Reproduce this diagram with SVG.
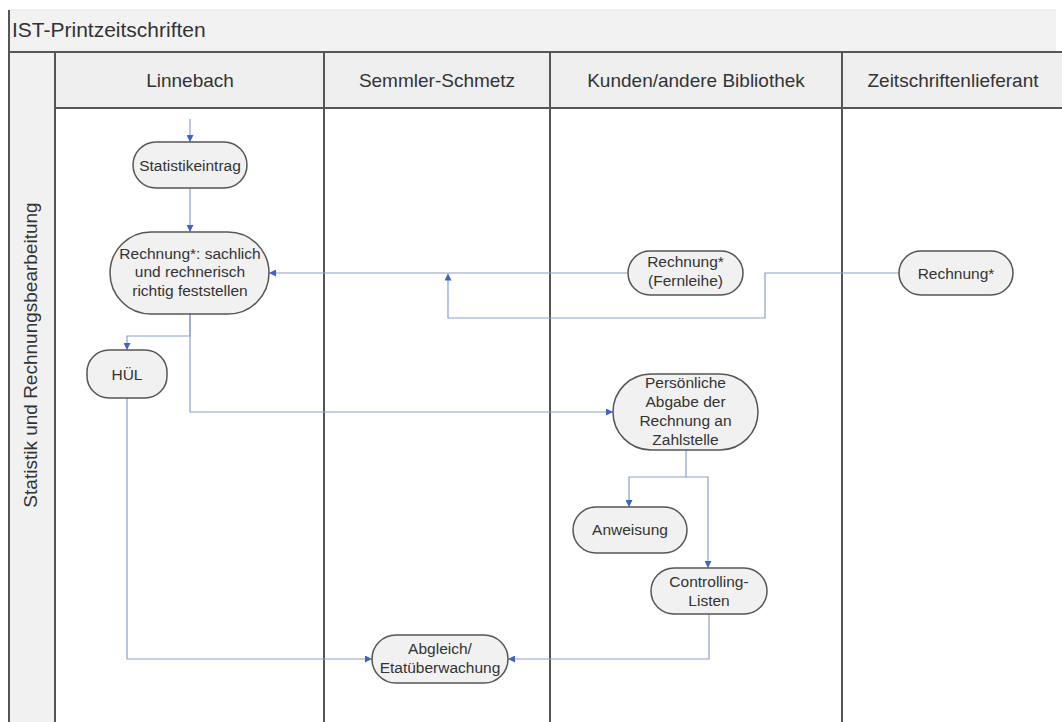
<svg xmlns="http://www.w3.org/2000/svg" width="1062" height="722" viewBox="0 0 1062 722">
  <style>
    text { font-family: "Liberation Sans", Arial, sans-serif; fill: #333; }
    .title { font-size: 21px; }
    .hdr { font-size: 19px; text-anchor: middle; }
    .lbl { font-size: 15.5px; text-anchor: middle; }
    .node rect { fill: #f1f1f1; stroke: #555; stroke-width: 1.5; }
    .lane { stroke: #555; stroke-width: 2; fill: none; }
    .conn path { fill: none; stroke: #8c9ecb; stroke-width: 1.2; marker-end: url(#arr); }
  </style>
  <defs>
    <marker id="arr" viewBox="0 0 10 10" refX="10" refY="5" markerWidth="7" markerHeight="7" markerUnits="userSpaceOnUse" orient="auto">
      <path d="M0,0 L10,5 L0,10 z" fill="#3e64c8"/>
    </marker>
  </defs>
  <rect width="1062" height="722" fill="#fff"/>
  <!-- pool frame -->
  <g id="pool">
    <rect x="9" y="10" width="1047" height="42" fill="#f2f2f2"/>
    <line x1="9" y1="10" x2="1056" y2="10" stroke="#e2e2e2" stroke-width="1"/>
    <text class="title" x="12" y="37">IST-Printzeitschriften</text>
    <rect x="9" y="52" width="46" height="670" fill="#f1f1f1"/>
    <rect x="55" y="52" width="1007" height="56" fill="#efefef"/>
    <line class="lane" x1="9" y1="10" x2="9" y2="722"/>
    <line class="lane" x1="9" y1="52" x2="1062" y2="52"/>
    <line class="lane" x1="55" y1="52" x2="55" y2="722"/>
    <line class="lane" x1="55" y1="108" x2="1062" y2="108"/>
    <line class="lane" x1="324" y1="52" x2="324" y2="722"/>
    <line class="lane" x1="550" y1="52" x2="550" y2="722"/>
    <line class="lane" x1="842" y1="52" x2="842" y2="722"/>
    <text class="hdr" x="190" y="87">Linnebach</text>
    <text class="hdr" x="437" y="87">Semmler-Schmetz</text>
    <text class="hdr" x="696" y="87">Kunden/andere Bibliothek</text>
    <text class="hdr" x="953" y="87">Zeitschriftenlieferant</text>
    <text class="hdr" transform="translate(37,355) rotate(-90)" x="0" y="0">Statistik und Rechnungsbearbeitung</text>
  </g>
  <g class="conn" id="connectors">
    <path d="M190,119 L190,142"/>
    <path d="M190,188 L190,232"/>
    <path d="M628,273 L269,273"/>
    <path d="M899,273 L765,273 L765,318 L448,318 L448,273.5"/>
    <path d="M190,314 L190,336 L127,336 L127,350"/>
    <path d="M190,314 L190,412 L613,412"/>
    <path d="M127,398 L127,659 L372,659"/>
    <path d="M686,450 L686,477 L629,477 L629,507"/>
    <path d="M686,477 L708,477 L708,568"/>
    <path d="M709,614 L709,659 L508,659"/>
  </g>
  <g class="node" id="n-statistikeintrag">
    <rect x="133" y="142" width="114" height="46" rx="23"/>
    <text class="lbl" x="190" y="170.5">Statistikeintrag</text>
  </g>
  <g class="node" id="n-rechnung-pruefen">
    <rect x="110" y="232" width="159" height="82" rx="41"/>
    <text class="lbl" x="190" y="258.5">Rechnung*: sachlich</text>
    <text class="lbl" x="190" y="277">und rechnerisch</text>
    <text class="lbl" x="190" y="295.5">richtig feststellen</text>
  </g>
  <g class="node" id="n-huel">
    <rect x="87" y="350" width="80" height="48" rx="22"/>
    <text class="lbl" x="127" y="379.5">HÜL</text>
  </g>
  <g class="node" id="n-rechnung-fernleihe">
    <rect x="628" y="251" width="115" height="44" rx="22"/>
    <text class="lbl" x="685.5" y="267">Rechnung*</text>
    <text class="lbl" x="685.5" y="286">(Fernleihe)</text>
  </g>
  <g class="node" id="n-rechnung-lieferant">
    <rect x="899" y="251" width="114" height="44" rx="22"/>
    <text class="lbl" x="956" y="278.5">Rechnung*</text>
  </g>
  <g class="node" id="n-abgabe">
    <rect x="613" y="374" width="145" height="76" rx="38"/>
    <text class="lbl" x="685.5" y="388">Persönliche</text>
    <text class="lbl" x="685.5" y="407">Abgabe der</text>
    <text class="lbl" x="685.5" y="426">Rechnung an</text>
    <text class="lbl" x="685.5" y="445">Zahlstelle</text>
  </g>
  <g class="node" id="n-anweisung">
    <rect x="573" y="507" width="114" height="46" rx="23"/>
    <text class="lbl" x="630" y="535">Anweisung</text>
  </g>
  <g class="node" id="n-controlling">
    <rect x="651" y="568" width="116" height="46" rx="23"/>
    <text class="lbl" x="709" y="587">Controlling-</text>
    <text class="lbl" x="709" y="606">Listen</text>
  </g>
  <g class="node" id="n-abgleich">
    <rect x="372" y="635" width="136" height="48" rx="24"/>
    <text class="lbl" x="440" y="654">Abgleich/</text>
    <text class="lbl" x="440" y="673">Etatüberwachung</text>
  </g>
</svg>
